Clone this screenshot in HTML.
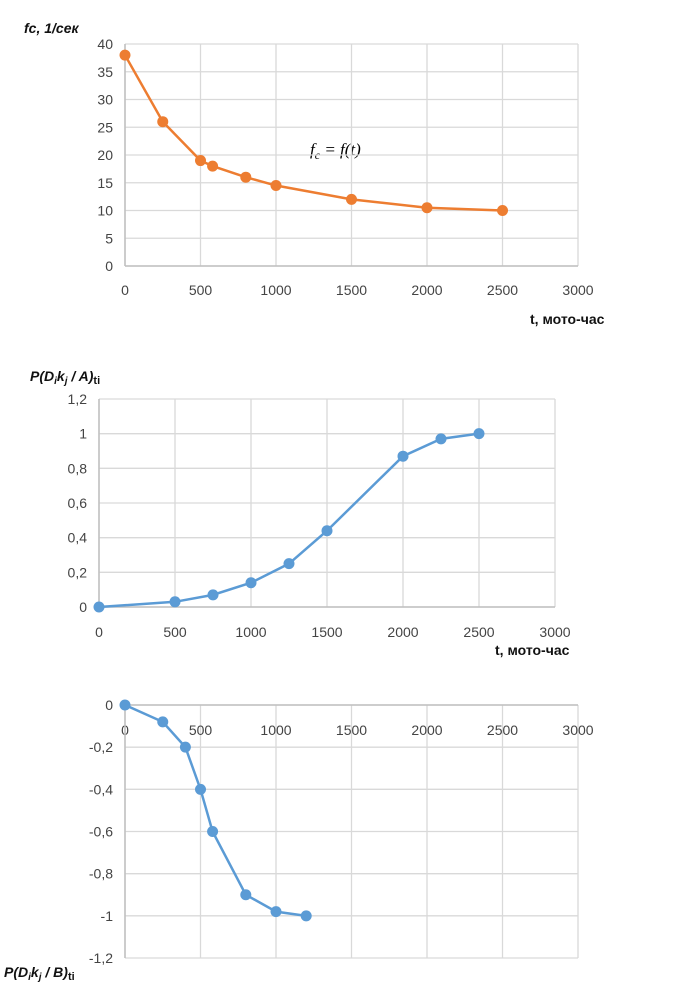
<!DOCTYPE html>
<html><head><meta charset="utf-8"><style>
body{margin:0;background:#fff;width:698px;height:992px;overflow:hidden}
svg{display:block}
.tk{font-family:"Liberation Sans",sans-serif;font-size:14px;fill:#444}
.lb{font-family:"Liberation Sans",sans-serif;font-size:14px;font-weight:bold;font-style:italic;fill:#111}
.xl{font-family:"Liberation Sans",sans-serif;font-size:14px;font-weight:bold;fill:#111}
</style></head><body>
<svg id="s" width="698" height="992">
<text class="lb" x="24" y="33">fc, 1/сек</text>
<text x="310" y="155" style="font-family:'Liberation Serif',serif;font-size:17px;font-style:italic">f<tspan font-size="12" dy="4">c</tspan><tspan dy="-4"> = f(t)</tspan></text>
<text class="xl" x="530" y="324">t, мото-час</text>
<text class="lb" x="30" y="381">P(D<tspan font-size="10" dy="3">i</tspan><tspan dy="-3">k</tspan><tspan font-size="10" dy="3">j</tspan><tspan dy="-3"> / A)</tspan><tspan font-size="11" dy="3" font-style="normal">ti</tspan></text>
<text class="xl" x="495" y="655">t, мото-час</text>
<text class="lb" x="4" y="977">P(D<tspan font-size="10" dy="3">i</tspan><tspan dy="-3">k</tspan><tspan font-size="10" dy="3">j</tspan><tspan dy="-3"> / B)</tspan><tspan font-size="11" dy="3" font-style="normal">ti</tspan></text>
</svg>
<script>
const c1X=[0,250,500,580,800,1000,1500,2000,2500];
const c1Y=[38,26,19,18,16,14.5,12,10.5,10];
const c1YTicks=[0,5,10,15,20,25,30,35,40];
const c2X=[0,500,750,1000,1250,1500,2000,2250,2500];
const c2Y=[0,0.03,0.07,0.14,0.25,0.44,0.87,0.97,1.0];
const c2YTicks=[0,0.2,0.4,0.6,0.8,1,1.2];
const c3X=[0,250,400,500,580,800,1000,1200];
const c3Y=[0,-0.08,-0.2,-0.4,-0.6,-0.9,-0.98,-1.0];
const c3YTicks=[-1.2,-1,-0.8,-0.6,-0.4,-0.2,0];
const xTicks=[0,500,1000,1500,2000,2500,3000];
const NS="http://www.w3.org/2000/svg",S=document.getElementById('s');
function el(t,a){const e=document.createElementNS(NS,t);for(const k in a)e.setAttribute(k,a[k]);S.appendChild(e);return e;}
function fmt(v){return String(Math.round(v*10)/10).replace('.',',');}
function chart(id,cfg){
 const sx=v=>cfg.x0+(cfg.x1-cfg.x0)*v/3000;
 const sy=v=>cfg.yb+(cfg.yt-cfg.yb)*(v-cfg.ymin)/(cfg.ymax-cfg.ymin);
 cfg.yt_ticks.forEach(v=>{const l=el('line',{x1:cfg.x0,x2:cfg.x1,y1:sy(v),y2:sy(v),stroke:'#d9d9d9','stroke-width':1.3});
  
  const t=el('text',{x:cfg.x0-12,y:sy(v)+5,'text-anchor':'end',class:'tk'});t.textContent=fmt(v);
  });
 xTicks.forEach(v=>{const l=el('line',{x1:sx(v),x2:sx(v),y1:cfg.yt,y2:cfg.yb,stroke:'#d9d9d9','stroke-width':1.3});
  
  const t=el('text',{x:sx(v),y:cfg.xly,'text-anchor':'middle',class:'tk'});t.textContent=v;
  });
 const ax=el('line',{x1:cfg.x0,x2:cfg.x0,y1:cfg.yt,y2:cfg.yb,stroke:'#bfbfbf','stroke-width':1.5});
 
 const ay=el('line',{x1:cfg.x0,x2:cfg.x1,y1:sy(cfg.axv),y2:sy(cfg.axv),stroke:'#bfbfbf','stroke-width':1.5});
 
 const p=el('polyline',{points:cfg.xs.map((x,i)=>sx(x)+','+sy(cfg.ys[i])).join(' '),fill:'none',stroke:cfg.col,'stroke-width':2.5});
 
 cfg.xs.forEach((x,i)=>{const c=el('circle',{cx:sx(x),cy:sy(cfg.ys[i]),r:5.5,fill:cfg.col});
  });
}
chart('chart1',{x0:125,x1:578,yt:44,yb:266,ymin:0,ymax:40,yt_ticks:c1YTicks,xly:295,axv:0,xs:c1X,ys:c1Y,col:'#ed7d31'});
chart('chart2',{x0:99,x1:555,yt:399,yb:607,ymin:0,ymax:1.2,yt_ticks:c2YTicks,xly:637,axv:0,xs:c2X,ys:c2Y,col:'#5b9bd5'});
chart('chart3',{x0:125,x1:578,yt:705,yb:958,ymin:-1.2,ymax:0,yt_ticks:c3YTicks,xly:735,axv:0,xs:c3X,ys:c3Y,col:'#5b9bd5'});
</script>
</body></html>
